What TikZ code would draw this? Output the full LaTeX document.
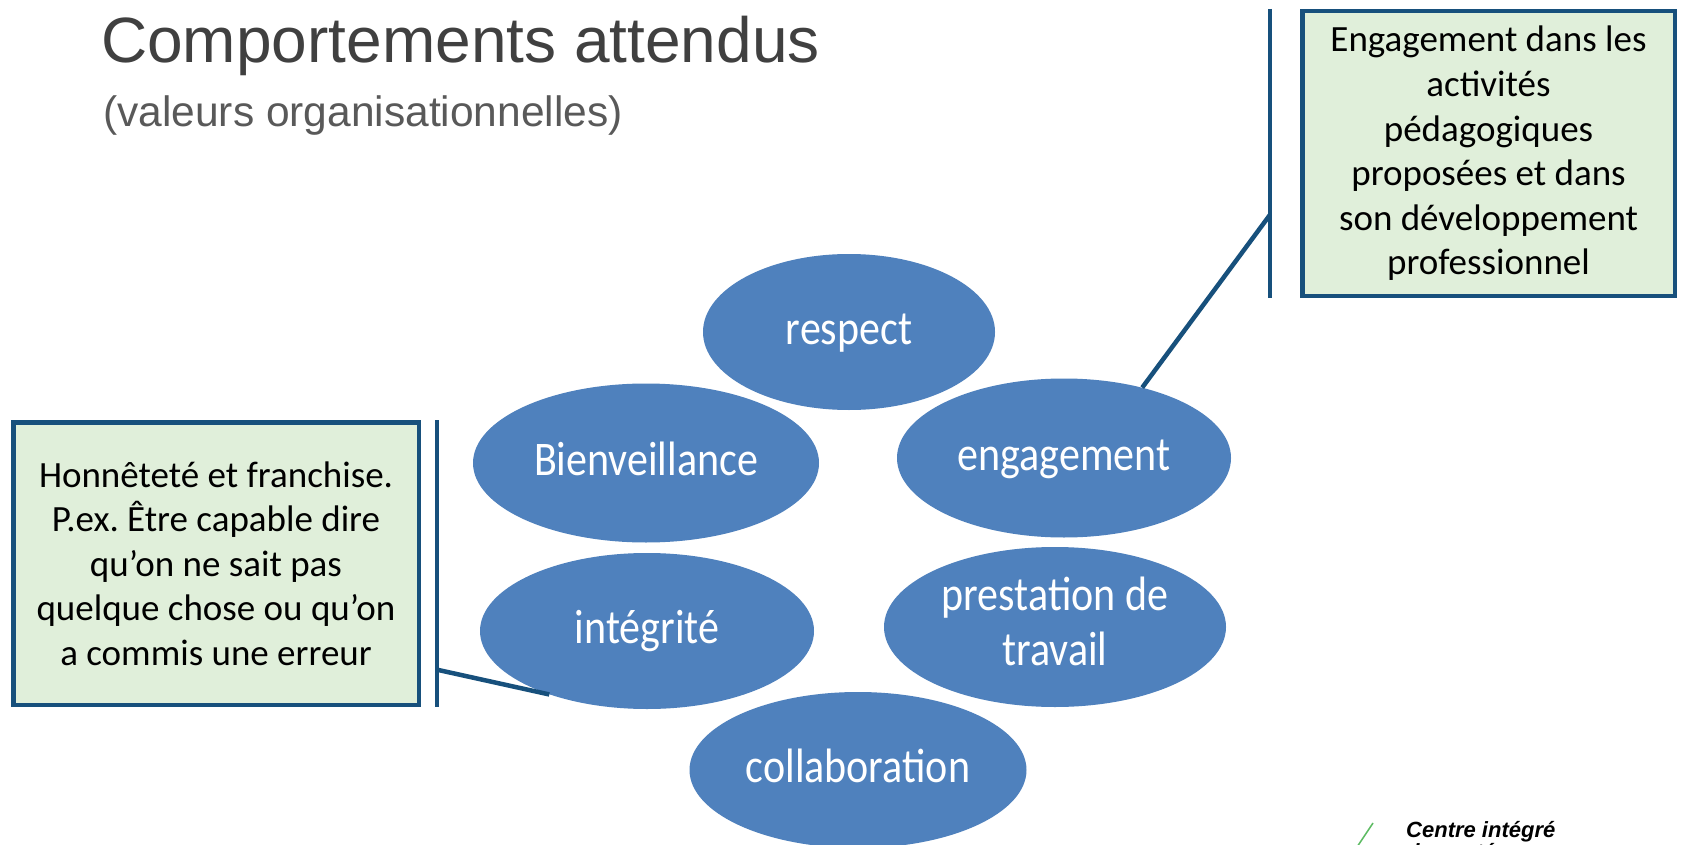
\documentclass[tikz,border=0pt]{standalone}
\usepackage{fontspec}
\setmainfont{Carlito}
\newfontfamily\arialf{Liberation Sans}
\usetikzlibrary{shapes.geometric,calc}
\definecolor{ellblue}{HTML}{4F81BD}
\definecolor{callblue}{HTML}{17507C}
\definecolor{callgreen}{HTML}{E0EFDA}
\definecolor{titlegray}{HTML}{404040}
\definecolor{subgray}{HTML}{595959}
\definecolor{logogreen}{HTML}{5DBB63}
\newcommand{\etxt}[1]{\scalebox{1}[1.15]{\begin{tabular}{@{}c@{}}#1\end{tabular}}}
\frenchspacing
\begin{document}
\begin{tikzpicture}[x=1pt,y=-1pt,
  val/.style={ellipse, fill=ellblue, text=white, inner sep=0pt, font=\fontsize{42}{55}\selectfont},
  callbox/.style={rectangle, draw=callblue, line width=4.5pt, fill=callgreen, inner sep=0pt, align=center, font=\fontsize{37}{44.6}\selectfont, text=black},
  bar/.style={draw=callblue, line width=4.5pt},
  lead/.style={draw=callblue, line width=4.5pt},
  titletxt/.style={anchor=base west, inner sep=0pt, text=titlegray, font=\arialf\fontsize{64}{72}\selectfont},
  subtxt/.style={anchor=base west, inner sep=0pt, text=subgray, font=\arialf\fontsize{42.5}{50}\selectfont},
  logotxt/.style={anchor=base west, inner sep=0pt, text=black, font=\arialf\bfseries\itshape\fontsize{22}{25}\selectfont},
]
\useasboundingbox (0,0) rectangle (1681,845);
\clip (0,0) rectangle (1681,845);
\fill[white] (0,0) rectangle (1681,845);

% title
\node[titletxt] (title) at (101,63) {Comportements attendus};
\node[subtxt] (subtitle) at (103,127) {(valeurs organisationnelles)};

% values
\node[val, minimum width=292, minimum height=156] (respect) at (849,332) {\etxt{respect}};
\node[val, minimum width=346, minimum height=159] (bienv) at (646,463) {\etxt{Bienveillance}};
\node[val, minimum width=334, minimum height=159] (engag) at (1064,458) {\etxt{engagement}};
\node[val, minimum width=334, minimum height=156] (integ) at (647,631) {\etxt{intégrité}};
\node[val, minimum width=342, minimum height=160] (prest) at (1055,627) {\fontsize{42}{48}\selectfont\etxt{prestation de\\travail}};
\node[val, minimum width=337, minimum height=156] (collab) at (858,770) {\etxt{collaboration}};

% callouts
\node[callbox, minimum width=372.5, minimum height=284.5] (rbox) at (1488.5,153.5)
  {Engagement dans les\\activités\\pédagogiques\\proposées et dans\\son développement\\professionnel};
\node[callbox, minimum width=405.5, minimum height=282.5] (lbox) at (216,563.5)
  {Honnêteté et franchise.\\P.ex. Être capable dire\\qu’on ne sait pas\\quelque chose ou qu’on\\a commis une erreur};

\draw[bar] ([xshift=-30pt]rbox.north west) coordinate (rbT) -- ([xshift=-30pt]rbox.south west) coordinate (rbB);
\coordinate (rbL) at ($(rbT)!0.712!(rbB)$);
\draw[lead] (rbL) -- (engag.42);

\draw[bar] ([xshift=16pt]lbox.north east) coordinate (lbT) -- ([xshift=16pt]lbox.south east) coordinate (lbB);
\coordinate (lbL) at ($(lbT)!0.87!(lbB)$);
\draw[lead] (lbL) -- (integ.213);

% logo
\draw[logogreen, line width=1.5pt] (1373,823) -- (1355,850);
\node[logotxt] (logo1) at (1406,837) {Centre intégré};
\node[logotxt] (logo2) at (1406,859) {de santé};
\end{tikzpicture}
\end{document}
